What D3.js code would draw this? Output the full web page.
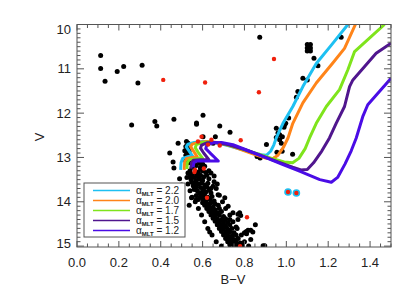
<!DOCTYPE html>
<html>
<head>
<meta charset="utf-8">
<script src="https://cdn.jsdelivr.net/npm/d3@7"></script>
<style>
  body { margin: 0; background: #fff; }
  text { font-family: "Liberation Sans", Arial, sans-serif; fill: #222; }
</style>
</head>
<body>
<svg id="chart" width="415" height="297"></svg>
<script>
// isochrone tracks [B-V, V], one per mixing length value
var alphas = ["2.2", "2.0", "1.7", "1.5", "1.2"];
var colors = ["#1ec0f2", "#ff8419", "#7fe41c", "#50168e", "#4a0ce6"];

var iso22 = [[0.495,13.28],[0.497,13.12],[0.505,13.02],[0.53,12.98],[0.552,12.97],[0.535,12.85],[0.522,12.76],[0.53,12.70],[0.56,12.66],[0.60,12.64],[0.66,12.66],[0.72,12.73],[0.78,12.81],[0.84,12.89],[0.88,12.94],[0.905,12.95],[0.925,12.86],[0.94,12.72],[0.952,12.56],[0.984,12.23],[1.031,11.85],[1.079,11.40],[1.143,10.88],[1.216,10.46],[1.294,10.0]];
var iso20 = [[0.512,13.28],[0.514,13.12],[0.522,13.03],[0.55,13.0],[0.575,12.99],[0.556,12.85],[0.543,12.76],[0.55,12.70],[0.58,12.66],[0.62,12.64],[0.68,12.67],[0.74,12.75],[0.80,12.85],[0.86,12.95],[0.905,13.02],[0.935,13.03],[0.96,12.95],[0.985,12.78],[1.008,12.56],[1.031,12.23],[1.079,11.77],[1.143,11.32],[1.222,10.87],[1.278,10.54],[1.33,10.0]];
var iso17 = [[0.525,13.26],[0.527,13.12],[0.536,13.05],[0.57,13.03],[0.60,13.02],[0.578,12.88],[0.565,12.78],[0.57,12.71],[0.60,12.66],[0.64,12.65],[0.70,12.69],[0.77,12.78],[0.85,12.90],[0.93,13.02],[0.99,13.10],[1.03,13.12],[1.06,13.02],[1.09,12.80],[1.111,12.56],[1.143,12.23],[1.191,11.85],[1.254,11.47],[1.294,11.02],[1.326,10.61],[1.469,10.0]];
var iso15 = [[0.545,13.25],[0.547,13.12],[0.556,13.06],[0.59,13.05],[0.63,13.05],[0.605,12.90],[0.59,12.79],[0.595,12.72],[0.62,12.67],[0.66,12.66],[0.72,12.71],[0.80,12.82],[0.88,12.96],[0.96,13.10],[1.03,13.22],[1.07,13.28],[1.10,13.27],[1.13,13.12],[1.17,12.85],[1.206,12.56],[1.238,12.23],[1.278,11.85],[1.302,11.40],[1.318,11.25],[1.429,10.65],[1.5,10.42]];
var iso12 = [[0.555,13.22],[0.558,13.12],[0.57,13.08],[0.62,13.08],[0.675,13.08],[0.64,12.92],[0.615,12.80],[0.62,12.72],[0.65,12.67],[0.69,12.66],[0.745,12.71],[0.825,12.86],[0.905,13.01],[0.984,13.16],[1.063,13.31],[1.16,13.50],[1.215,13.56],[1.245,13.45],[1.28,13.15],[1.31,12.85],[1.334,12.56],[1.365,12.08],[1.389,11.81],[1.493,11.25],[1.5,11.21]];
var tracks = [iso22, iso20, iso17, iso15, iso12];

// cluster stars
var bv = [0.113,0.113,0.134,0.192,0.223,0.291,0.311,0.261,0.372,0.381,0.463,0.571,0.571,0.602,0.682,0.731,0.661,0.602,
  0.873,1.10,1.115,1.10,1.115,1.10,1.115,1.262,1.132,1.151,1.079,1.10,1.055,1.048,1.011,0.992,0.989,0.968,0.981,0.952,
  0.952,0.96,0.968,0.976,0.997,0.905,0.86,0.875,0.94,0.955,0.98,1.03,
  0.443,0.463,0.483,0.459,0.523,0.531,0.65,
  0.52,0.53,0.515,0.525,0.535,0.52,0.54,0.53,0.545,0.52,0.535,0.55,0.56,0.57,0.585,0.60,0.61,0.59,0.55,0.54,
  0.53,0.55,0.565,0.58,0.60,0.615,0.54,0.56,0.575,0.59,0.605,0.62,0.545,0.57,0.585,0.60,0.63,0.55,
  0.565,0.58,0.595,0.61,0.625,0.555,0.57,0.59,0.605,0.62,0.64,0.56,0.575,0.60,0.615,0.63,0.585,0.60,0.64,
  0.57,0.59,0.61,0.625,0.645,0.60,0.58,0.615,0.635,0.655,0.60,0.62,0.64,0.66,0.61,0.63,0.65,0.675,
  0.62,0.64,0.66,0.68,0.63,0.65,0.67,0.69,0.64,0.66,0.68,0.70,0.65,0.67,0.69,0.71,
  0.66,0.68,0.70,0.72,0.67,0.69,0.71,0.73,0.68,0.70,0.72,0.74,0.69,0.71,0.73,0.75,
  0.70,0.72,0.74,0.76,0.71,0.73,0.75,0.77,0.72,0.74,0.76,0.78,0.73,0.75,0.77,0.79,
  0.49,0.50,0.547,0.536,0.634,0.65,0.674,0.706,0.722,0.777,0.782,0.769,0.817,0.830,0.809,0.852,0.830,0.889,0.897,0.745,0.769,
  0.525,0.53,0.54,0.55,0.565,0.58,0.595,0.61,0.625,0.645,0.665,0.69,
  0.64,0.655,0.665,0.68,0.695,0.71,0.73,0.745,0.765,0.785,0.80,0.82,
  0.59,0.63,0.655,0.67,0.57,0.64,0.69,0.76,0.80,0.81,0.84,0.75,0.70,0.73];
var vmag = [10.70,10.99,11.28,11.06,10.95,11.32,10.92,12.27,12.19,12.29,12.14,12.22,12.25,12.05,12.29,12.43,12.53,12.53,
  10.29,10.45,10.45,10.53,10.53,10.60,10.60,10.29,10.76,10.93,11.21,11.25,11.51,11.64,12.11,12.26,12.32,12.49,12.53,12.55,
  12.34,12.45,12.60,12.68,12.23,12.71,12.98,13.01,13.04,12.88,12.86,12.93,
  12.90,13.24,12.68,13.10,12.64,12.68,12.68,
  12.75,12.80,12.85,12.90,12.86,12.95,12.98,13.02,13.05,13.08,13.12,13.15,13.10,13.18,13.12,13.15,13.20,13.22,13.22,13.30,
  13.35,13.38,13.35,13.33,13.30,13.34,13.42,13.45,13.42,13.40,13.44,13.40,13.50,13.52,13.48,13.52,13.48,13.56,
  13.58,13.60,13.57,13.62,13.58,13.64,13.66,13.68,13.70,13.66,13.70,13.72,13.75,13.76,13.78,13.74,13.80,13.83,13.80,
  13.86,13.88,13.86,13.90,13.88,13.93,13.95,13.97,13.95,13.98,14.02,14.04,14.02,14.05,14.08,14.10,14.12,14.08,
  14.15,14.17,14.18,14.15,14.22,14.24,14.25,14.22,14.30,14.31,14.30,14.33,14.37,14.38,14.40,14.38,
  14.44,14.46,14.45,14.47,14.52,14.53,14.55,14.52,14.60,14.61,14.62,14.60,14.67,14.69,14.68,14.70,
  14.75,14.76,14.77,14.75,14.83,14.84,14.85,14.83,14.90,14.92,14.91,14.93,14.97,14.98,14.99,14.98,
  13.48,13.62,13.91,14.08,14.68,13.65,13.84,13.91,14.10,14.25,14.31,14.40,14.64,14.64,14.67,14.52,14.85,14.99,14.99,14.25,14.28,
  13.45,13.60,13.75,13.90,14.00,14.15,14.30,14.45,14.60,14.75,14.90,15.00,
  13.35,13.55,13.70,13.85,14.00,14.15,14.30,14.45,14.60,14.75,14.90,15.00,
  13.25,13.30,13.42,13.60,13.95,14.25,14.55,14.57,14.70,14.72,14.68,14.95,14.50,14.40];

// red (non-member) stars
var redBV = [0.412,0.612,0.941,0.869,0.595,0.578,0.642,0.626,0.682,0.782,0.564,0.561,0.606,0.621,0.812,0.779];
var redV  = [11.25,11.31,10.78,11.53,12.53,12.64,12.60,12.71,12.73,12.61,13.28,13.33,13.25,13.91,14.35,15.0];
// red stars circled in cyan
var binBV = [1.008,1.048];
var binV  = [13.78,13.80];

var xTicks = [0.0,0.2,0.4,0.6,0.8,1.0,1.2,1.4];
var yTicks = [10,11,12,13,14,15];

var svg = d3.select("#chart");
var L = 77, R = 391, T = 24.5, B = 247;
var x = d3.scaleLinear().domain([0,1.5]).range([L,R]);
var y = d3.scaleLinear().domain([10,15.02]).range([T,B]);

svg.append("defs").append("clipPath").attr("id","cp")
  .append("rect").attr("x",L).attr("y",T).attr("width",R-L).attr("height",B-T);

var plot = svg.append("g").attr("clip-path","url(#cp)");

plot.selectAll("circle.blk").data(d3.range(bv.length)).enter().append("circle")
  .attr("class","blk")
  .attr("cx", function(i){return x(bv[i]);})
  .attr("cy", function(i){return y(vmag[i]);})
  .attr("r", 2.5).style("fill","#000");

var line = d3.line().x(function(d){return x(d[0]);}).y(function(d){return y(d[1]);});
plot.selectAll("path.iso").data(tracks).enter().append("path")
  .attr("class","iso")
  .attr("d", line)
  .style("fill","none")
  .style("stroke", function(d,i){return colors[i];})
  .style("stroke-width", 3)
  .style("stroke-linejoin","round");

plot.selectAll("circle.bin").data(binBV).enter().append("circle")
  .attr("cx", function(d){return x(d);})
  .attr("cy", function(d,i){return y(binV[i]);})
  .attr("r", 3.8).style("fill","#1ec0f2");

plot.selectAll("circle.red").data(redBV.concat(binBV)).enter().append("circle")
  .attr("cx", function(d){return x(d);})
  .attr("cy", function(d,i){return y(redV.concat(binV)[i]);})
  .attr("r", 2.2).style("fill","#f0200c");

// frame and ticks
var ax = "#555";
svg.append("rect").attr("x",L).attr("y",T).attr("width",R-L).attr("height",B-T)
  .style("fill","none").style("stroke",ax).style("stroke-width",1);

var xMinor = d3.range(0, 1.5001, 0.05);
var yMinor = d3.range(10, 15.001, 0.1);
xMinor.forEach(function(v){
  var major = Math.abs(v*5 - Math.round(v*5)) < 1e-6;
  var len = major ? 6 : 3.5;
  svg.append("line").attr("x1",x(v)).attr("x2",x(v)).attr("y1",B).attr("y2",B-len).style("stroke",ax);
  svg.append("line").attr("x1",x(v)).attr("x2",x(v)).attr("y1",T).attr("y2",T+len).style("stroke",ax);
});
yMinor.forEach(function(v){
  var major = Math.abs(v - Math.round(v)) < 1e-6;
  var len = major ? 7 : 3.5;
  svg.append("line").attr("y1",y(v)).attr("y2",y(v)).attr("x1",L).attr("x2",L+len).style("stroke",ax);
  svg.append("line").attr("y1",y(v)).attr("y2",y(v)).attr("x1",R).attr("x2",R-len).style("stroke",ax);
});

svg.selectAll("text.xt").data(xTicks).enter().append("text")
  .attr("x", function(d){return x(d);}).attr("y", 267)
  .attr("text-anchor","middle").style("font-size","13px")
  .text(function(d){return d.toFixed(1);});
svg.selectAll("text.yt").data(yTicks).enter().append("text")
  .attr("x", 71)
  .attr("y", function(d){ var p = y(d); if (d==10) p = T+5; if (d==15) p = B-4; return p + 4.5; })
  .attr("text-anchor","end").style("font-size","13px")
  .text(function(d){return d;});

svg.append("text").attr("x", 233).attr("y", 284).attr("text-anchor","middle")
  .style("font-size","13px").text("B\u2212V");
svg.append("text").attr("transform","translate(44,137) rotate(-90)").attr("text-anchor","middle")
  .style("font-size","13px").text("V");

// legend
var lg = svg.append("g");
lg.append("rect").attr("x",84).attr("y",183).attr("width",101).attr("height",54)
  .style("fill","#fff").style("stroke",ax).style("stroke-width",1);
alphas.forEach(function(a,i){
  var yy = 190.5 + i*10;
  lg.append("line").attr("x1",93).attr("x2",130).attr("y1",yy).attr("y2",yy)
    .style("stroke",colors[i]).style("stroke-width",1.5);
  var t = lg.append("text").attr("x",136).attr("y",yy+3.5).style("font-size","10px");
  t.append("tspan").text("\u03b1");
  t.append("tspan").attr("dy",2).style("font-size","6px").style("font-weight","bold").text("MLT");
  t.append("tspan").attr("dy",-2).text(" = " + a);
});
</script>
</body>
</html>
